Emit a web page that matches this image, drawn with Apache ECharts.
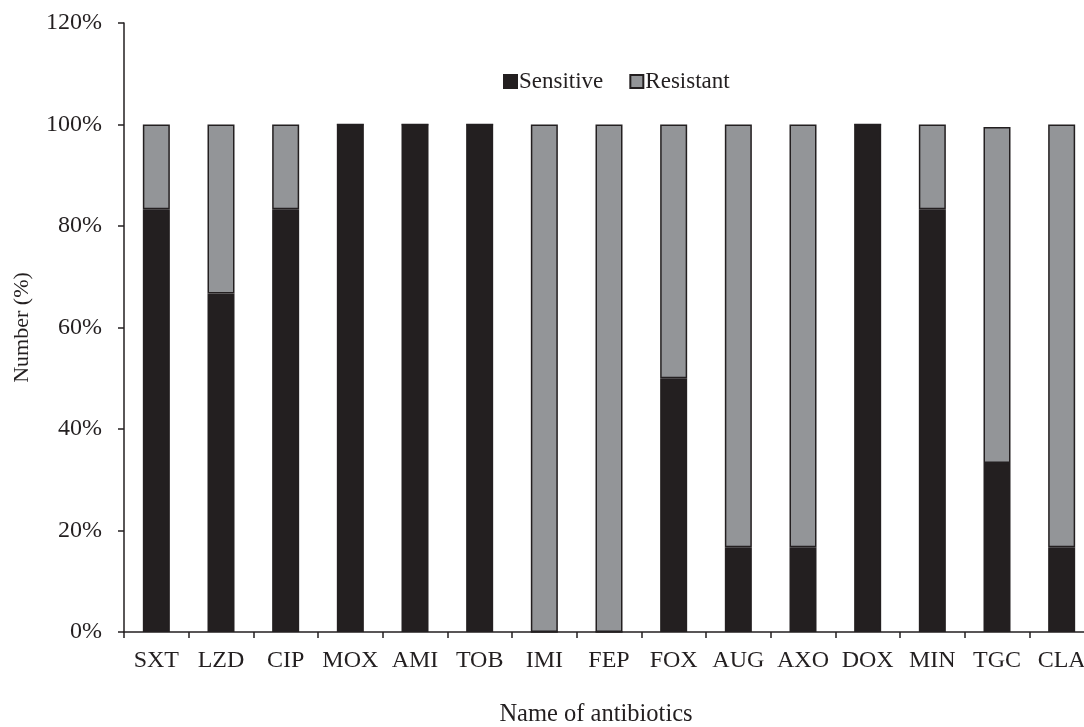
<!DOCTYPE html>
<html><head><meta charset="utf-8">
<script src="https://cdn.jsdelivr.net/npm/echarts@6/dist/echarts.min.js"></script>
<style>html,body{margin:0;padding:0;background:#fff}#c{width:1084px;height:727px}</style>
</head><body><div id="c"></div>
<script>
const categories = ['SXT','LZD','CIP','MOX','AMI','TOB','IMI','FEP','FOX','AUG','AXO','DOX','MIN','TGC','CLA'];
const sensitive = [83.3,66.7,83.3,100,100,100,0,0,50,16.7,16.7,100,83.3,33.3,16.7];
const resistant = [16.7,33.3,16.7,0,0,0,100,100,50,83.3,83.3,0,16.7,66.2,83.3];
const yTicks = [0,20,40,60,80,100,120];

const font = 'Liberation Serif';
const chart = echarts.init(document.getElementById('c'));
chart.setOption({
  animation:false,
  backgroundColor:'#fff',
  textStyle:{fontFamily:font,color:'#231f20'},
  legend:{
    top:65,left:498,itemGap:26,itemWidth:13,itemHeight:13,
    icon:'rect',
    textStyle:{fontFamily:font,fontSize:23,color:'#231f20',padding:[0,0,0,-3]},
    data:['Sensitive','Resistant']
  },
  grid:{left:124,top:23,width:970,height:609,containLabel:false,outerBoundsMode:'none'},
  xAxis:{
    type:'category',data:categories,
    name:'Name of antibiotics',nameLocation:'middle',nameGap:70,
    nameTextStyle:{fontFamily:font,fontSize:24.5,color:'#231f20',padding:[0,26,0,0]},
    axisLine:{lineStyle:{color:'#231f20',width:1.5}},
    axisTick:{show:true,length:6,lineStyle:{color:'#231f20',width:1.5}},
    axisLabel:{fontFamily:font,fontSize:24,color:'#231f20',margin:17,interval:0}
  },
  yAxis:{
    type:'value',min:0,max:120,interval:20,
    name:'Number (%)',nameLocation:'middle',nameGap:91,nameRotate:90,
    nameTextStyle:{fontFamily:font,fontSize:22,color:'#231f20'},
    axisLine:{show:true,lineStyle:{color:'#231f20',width:1.5}},
    axisTick:{show:true,length:6,lineStyle:{color:'#231f20',width:1.5}},
    splitLine:{show:false},
    axisLabel:{fontFamily:font,fontSize:24,color:'#231f20',margin:22,formatter:v=>v+'%'}
  },
  series:[
    {name:'Sensitive',type:'bar',stack:'a',data:sensitive,barWidth:27,
     itemStyle:{color:'#231f20',borderColor:'#231f20',borderWidth:1.5}},
    {name:'Resistant',type:'bar',stack:'a',data:resistant,barWidth:27,
     itemStyle:{color:'#939598',borderColor:'#231f20',borderWidth:1.5}}
  ]
});
</script></body></html>
